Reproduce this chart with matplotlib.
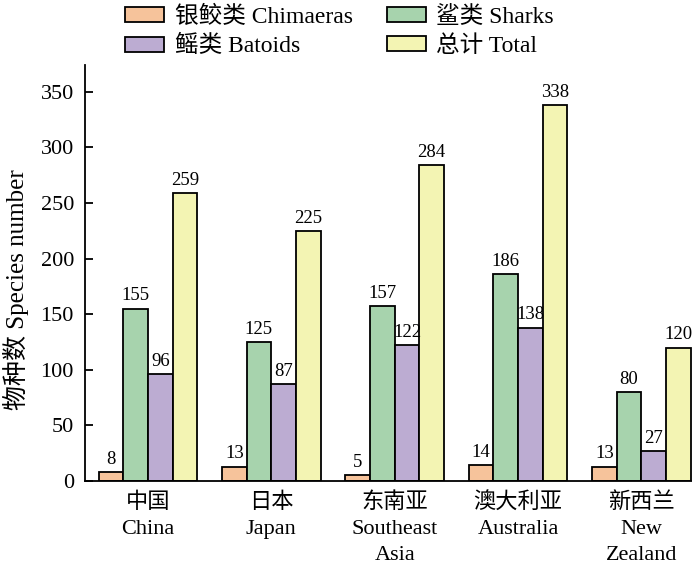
import matplotlib
matplotlib.use("Agg")
import matplotlib.pyplot as plt
import numpy as np

plt.rcParams['font.family'] = ['Liberation Serif', 'Noto Sans CJK SC']
plt.rcParams['axes.unicode_minus'] = False

regions = ["中国\nChina", "日本\nJapan", "东南亚\nSoutheast\nAsia",
           "澳大利亚\nAustralia", "新西兰\nNew\nZealand"]
chimaeras = [8, 13, 5, 14, 13]
sharks = [155, 125, 157, 186, 80]
batoids = [96, 87, 122, 138, 27]
total = [259, 225, 284, 338, 120]

series_names = ["银鲛类 Chimaeras", "鲨类 Sharks", "鳐类 Batoids", "总计 Total"]
colors = ["#f6c39b", "#a7d3ad", "#bcacd2", "#f3f4b3"]

fig = plt.figure(figsize=(6.92, 5.67), dpi=100)
ax = fig.add_axes([85 / 692, 86 / 567, 607 / 692, 416 / 567])

x = np.arange(len(regions))
w = 0.2
handles = []
for i, (vals, name, c) in enumerate(zip([chimaeras, sharks, batoids, total], series_names, colors)):
    bars = ax.bar(x + (i - 1.5) * w, vals, w, color=c, edgecolor="black", linewidth=1.3, label=name)
    ax.bar_label(bars, padding=3, fontsize=13.5)
    handles.append(bars)

ax.set_xlim(-0.51, 4.41)
ax.set_ylim(0, 374)
ax.set_yticks(range(0, 351, 50))
ax.set_xticks(x)
ax.set_xticklabels(regions, fontsize=16, linespacing=1.5)
ax.tick_params(axis="x", length=0, pad=8)
ax.tick_params(axis="y", direction="in", length=6, width=1.3, labelsize=16, pad=8)
ax.spines["top"].set_visible(False)
ax.spines["right"].set_visible(False)
for s in ["left", "bottom"]:
    ax.spines[s].set_linewidth(1.3)
ax.set_ylabel("物种数 Species number", fontsize=18)
ax.yaxis.set_label_coords(-0.092, 0.46)

order = [0, 2, 1, 3]
fig.legend([handles[i] for i in order], [series_names[i] for i in order],
           ncol=2, frameon=False, fontsize=17, loc="upper left",
           bbox_to_anchor=(125 / 692, 1 - 6 / 567), borderaxespad=0, borderpad=0,
           handlelength=1.65, handleheight=0.6, columnspacing=1.45,
           handletextpad=0.45, labelspacing=0.3)

fig.savefig("out.png", dpi=100)
